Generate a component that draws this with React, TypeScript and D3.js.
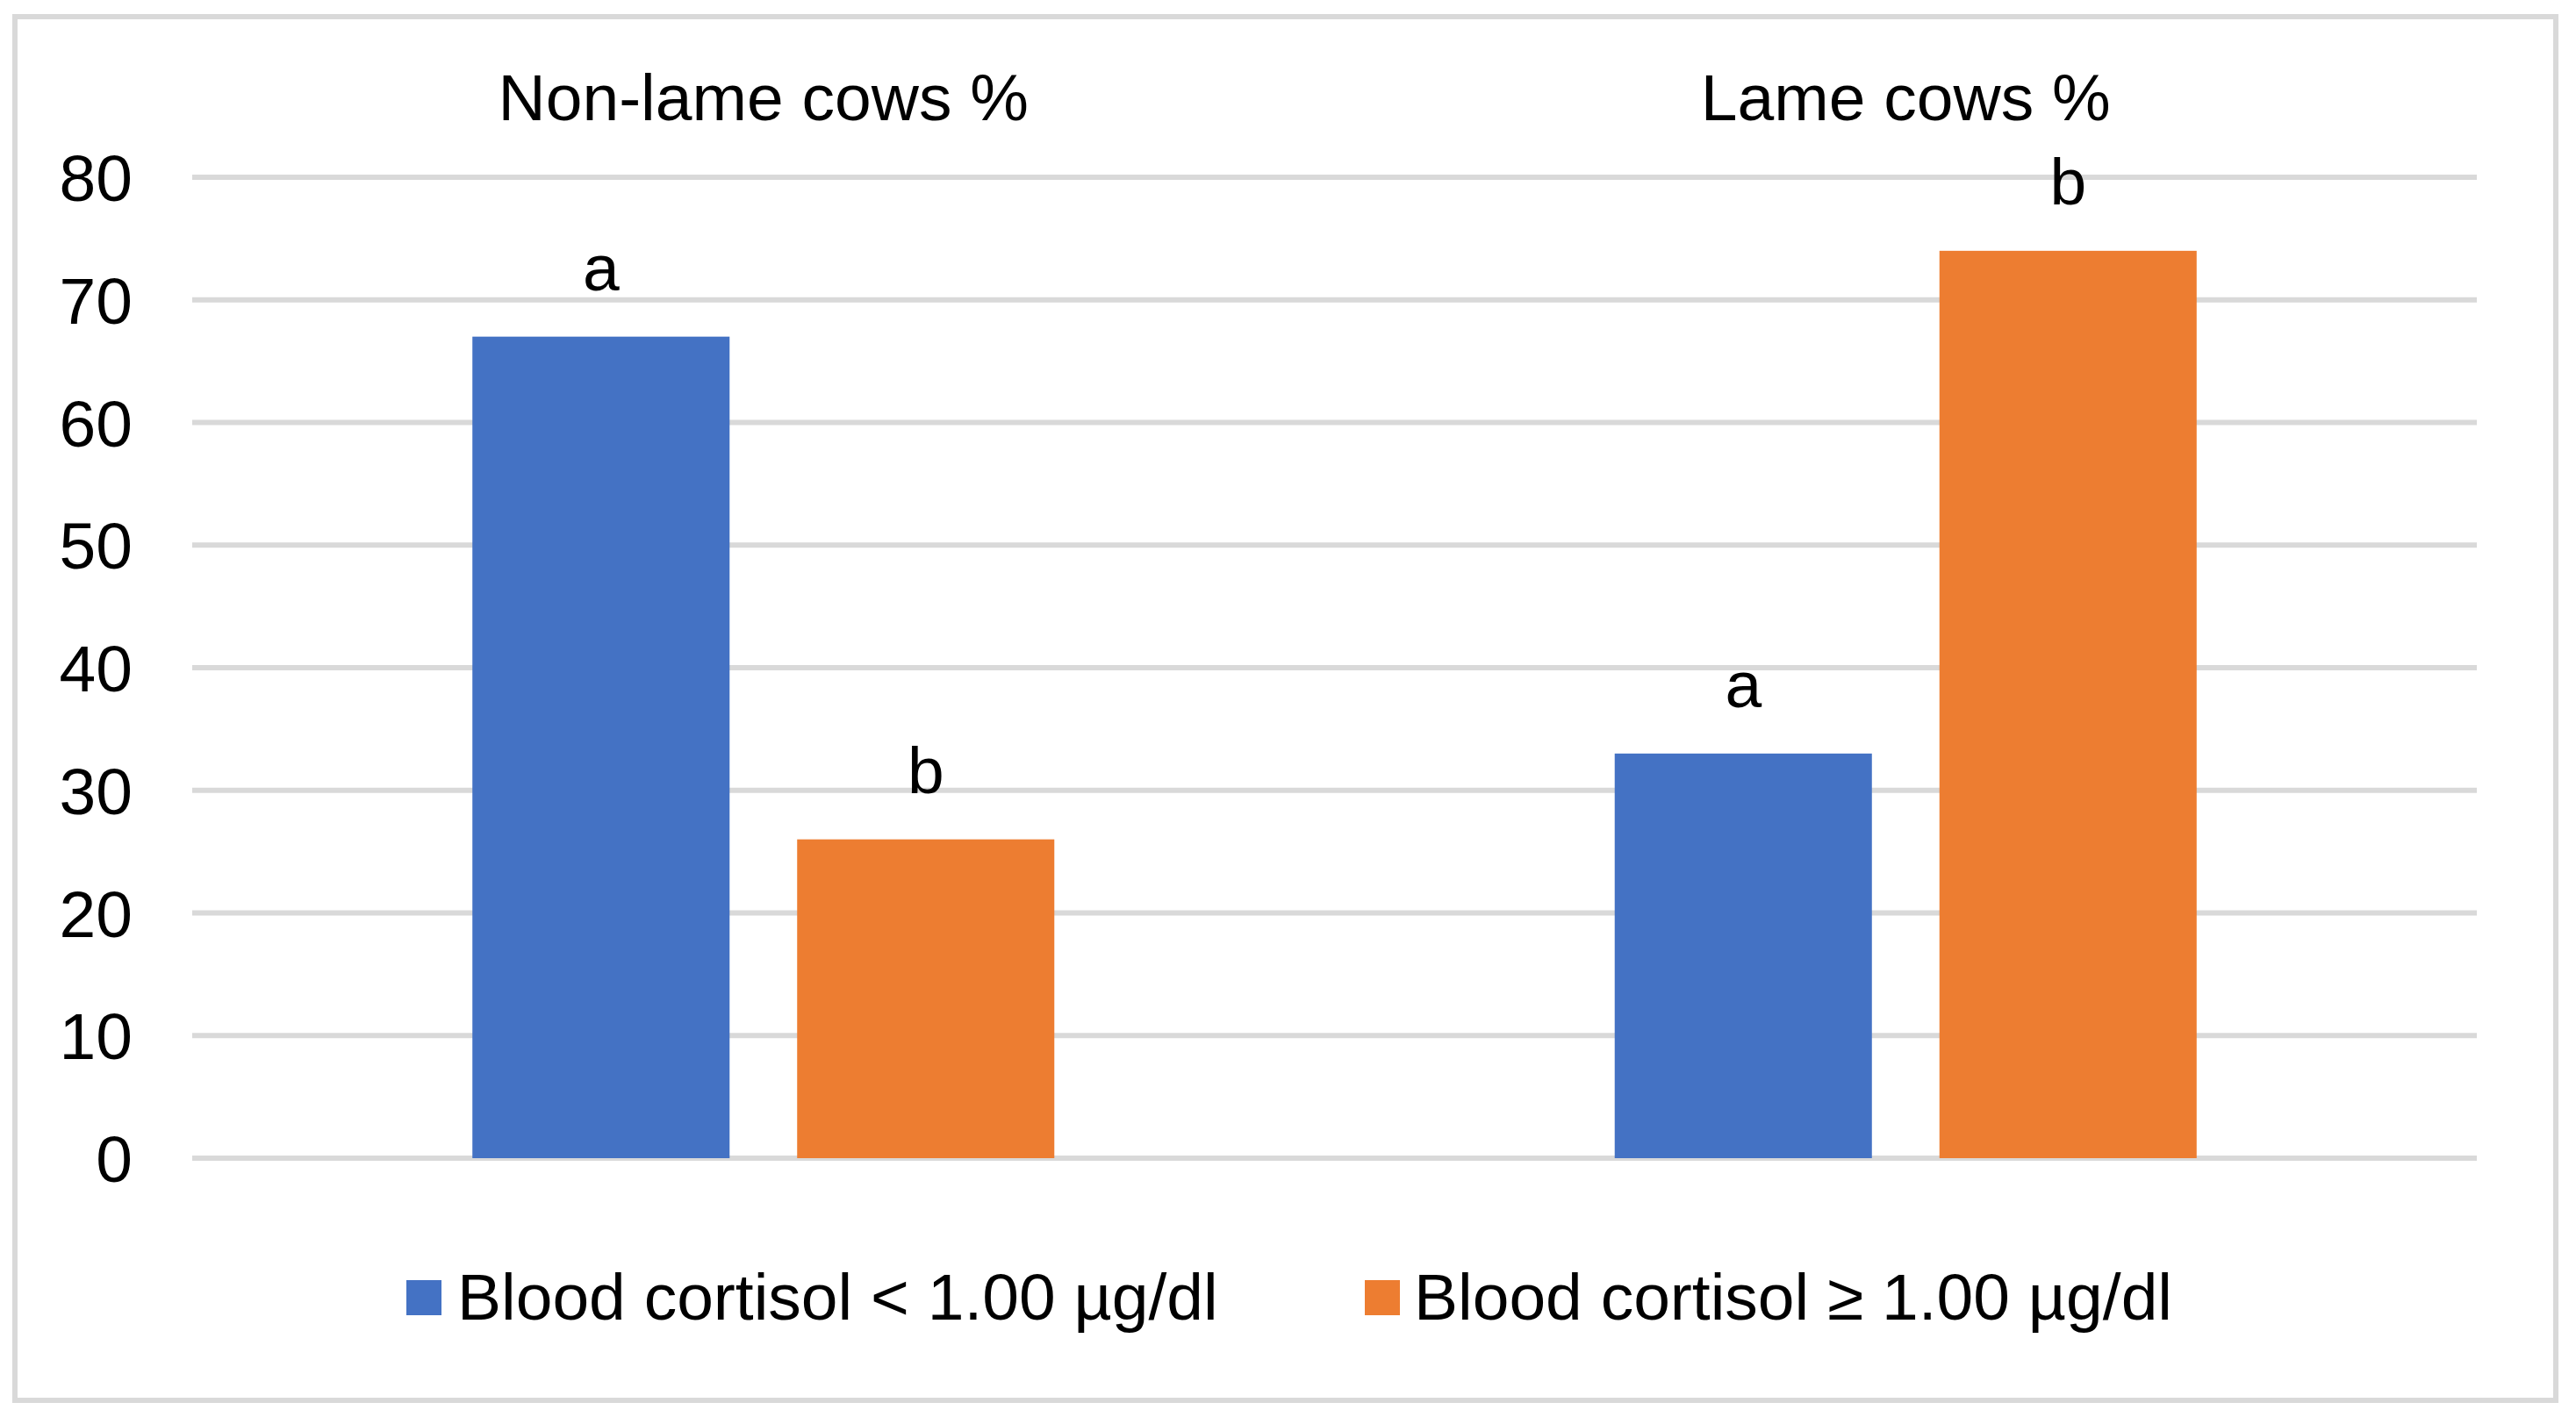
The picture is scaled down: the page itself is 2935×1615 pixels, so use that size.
import React from "react";
import * as d3 from "d3";

const categories = ["Non-lame cows %", "Lame cows %"];
const seriesNames = ["Blood cortisol < 1.00 µg/dl", "Blood cortisol ≥ 1.00 µg/dl"];
const lowCortisol = [67, 33];
const highCortisol = [26, 74];
const lowLetters = ["a", "a"];
const highLetters = ["b", "b"];
const yTicks = [0, 10, 20, 30, 40, 50, 60, 70, 80];
const colors = ["#4472C4", "#ED7D31"];

const W = 2935;
const H = 1615;
const FONT = "'Liberation Sans', Arial, sans-serif";

export default function App() {
  const plotLeft = 219;
  const plotRight = 2822;
  const y = d3.scaleLinear().domain([0, 80]).range([1320, 202]);
  const x0 = d3.scaleBand<string>().domain(categories).range([plotLeft, plotRight]).padding(0);
  const x1 = d3
    .scaleBand<number>()
    .domain([0, 1])
    .range([0, x0.bandwidth()])
    .paddingInner(0.208)
    .paddingOuter(0.8628);
  const series = [lowCortisol, highCortisol];
  const letters = [lowLetters, highLetters];
  const fs = 75;

  const legendItems = [
    { sq: 463, tx: 521 },
    { sq: 1555, tx: 1611 },
  ];

  return (
    <div style={{ position: "absolute", left: 0, top: 0 }}>
      <svg width={W} height={H} style={{ display: "block", background: "#fff" }}>
        <rect x={0} y={0} width={W} height={H} fill="#fff" />
        <rect x={17} y={19} width={2895} height={1577} fill="#fff" stroke="#d9d9d9" strokeWidth={6} />
        {yTicks.map((t) => (
          <g key={t}>
            <line x1={plotLeft} x2={plotRight} y1={y(t)} y2={y(t)} stroke="#d9d9d9" strokeWidth={6} />
            <text
              x={151}
              y={y(t)}
              dy="0.36em"
              textAnchor="end"
              fontFamily={FONT}
              fontSize={fs}
              fill="#000"
            >
              {t}
            </text>
          </g>
        ))}
        {categories.map((c, ci) => (
          <g key={c}>
            <text
              x={(x0(c) as number) + x0.bandwidth() / 2}
              y={137}
              textAnchor="middle"
              fontFamily={FONT}
              fontSize={fs}
              fill="#000"
            >
              {c}
            </text>
            {series.map((s, si) => {
              const bx = (x0(c) as number) + (x1(si) as number);
              const by = y(s[ci]);
              return (
                <g key={si}>
                  <rect x={bx} y={by} width={x1.bandwidth()} height={y(0) - by} fill={colors[si]} />
                  <text
                    x={bx + x1.bandwidth() / 2}
                    y={by - 53}
                    textAnchor="middle"
                    fontFamily={FONT}
                    fontSize={fs}
                    fill="#000"
                  >
                    {letters[si][ci]}
                  </text>
                </g>
              );
            })}
          </g>
        ))}
        {seriesNames.map((n, i) => (
          <g key={n}>
            <rect x={legendItems[i].sq} y={1459} width={40} height={40} fill={colors[i]} />
            <text x={legendItems[i].tx} y={1504} fontFamily={FONT} fontSize={fs} fill="#000">
              {n}
            </text>
          </g>
        ))}
      </svg>
    </div>
  );
}
